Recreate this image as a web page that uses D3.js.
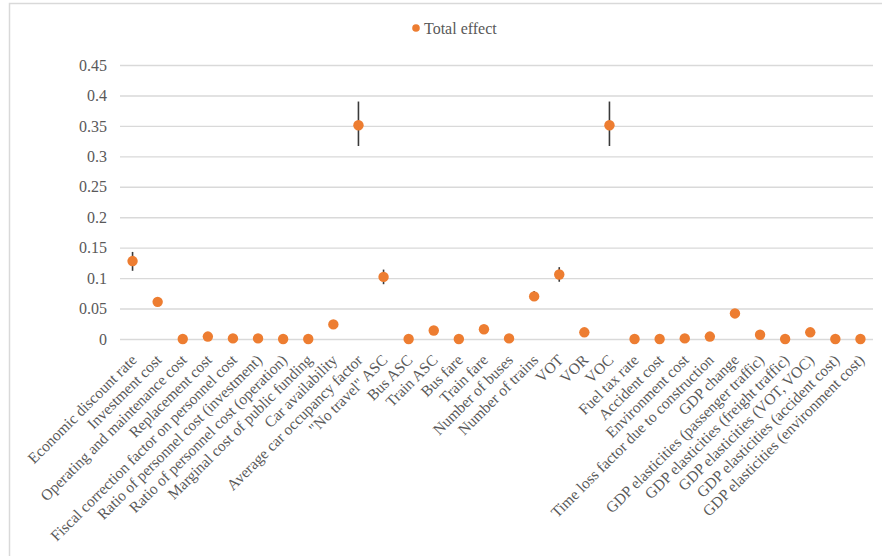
<!DOCTYPE html>
<html>
<head>
<meta charset="utf-8">
<script src="https://cdn.jsdelivr.net/npm/d3@7"></script>
<style>
  html, body { margin: 0; padding: 0; background: #fff; }
  svg { display: block; }
</style>
</head>
<body>
<svg id="chart" width="882" height="556"></svg>
<script>
// Parameters tested in the sensitivity analysis
const categories = [
  "Economic discount rate",
  "Investment cost",
  "Operating and maintenance cost",
  "Replacement cost",
  "Fiscal correction factor on personnel cost",
  "Ratio of personnel cost (investment)",
  "Ratio of personnel cost (operation)",
  "Marginal cost of public funding",
  "Car availability",
  "Average car occupancy factor",
  "\"No travel\" ASC",
  "Bus ASC",
  "Train ASC",
  "Bus fare",
  "Train fare",
  "Number of buses",
  "Number of trains",
  "VOT",
  "VOR",
  "VOC",
  "Fuel tax rate",
  "Accident cost",
  "Environment cost",
  "Time loss factor due to construction",
  "GDP change",
  "GDP elasticities (passenger traffic)",
  "GDP elasticities (freight traffic)",
  "GDP elasticities (VOT, VOC)",
  "GDP elasticities (accident cost)",
  "GDP elasticities (environment cost)"
];

// Total effect index per parameter
const totalEffect = [
  0.128, 0.061, 0.000, 0.004, 0.001, 0.001, 0.000, 0.000, 0.024, 0.351,
  0.102, 0.000, 0.014, 0.000, 0.016, 0.001, 0.070, 0.106, 0.011, 0.351,
  0.000, 0.000, 0.001, 0.004, 0.042, 0.007, 0.000, 0.011, 0.000, 0.000
];

// Confidence interval extents below / above each point (0 = no visible whisker)
const errLow = [
  0.016, 0, 0, 0, 0, 0, 0, 0, 0, 0.034,
  0.012, 0, 0, 0, 0, 0, 0, 0.012, 0, 0.034,
  0, 0, 0, 0, 0, 0, 0, 0, 0, 0
];
const errHigh = [
  0.015, 0, 0, 0, 0, 0, 0, 0, 0, 0.039,
  0.012, 0, 0, 0, 0, 0, 0.009, 0.012, 0, 0.039,
  0, 0, 0, 0, 0, 0, 0, 0, 0, 0
];

const yTicks = [0, 0.05, 0.1, 0.15, 0.2, 0.25, 0.3, 0.35, 0.4, 0.45];
const seriesName = "Total effect";

const data = categories.map((c, i) => ({
  name: c, value: totalEffect[i], lo: totalEffect[i] - errLow[i], hi: totalEffect[i] + errHigh[i]
}));

const svg = d3.select("#chart");
const W = 882, H = 556;
const plot = { left: 120, right: 873, top: 65, bottom: 339 };

const font = "'Liberation Serif', 'Times New Roman', serif";
const textColor = "#595959";
const orange = "#ED7D31";

// Outer chart frame
svg.append("rect")
  .attr("x", 9.5).attr("y", 3.5)
  .attr("width", W + 20).attr("height", H + 20)
  .attr("fill", "none").attr("stroke", "#d9d9d9").attr("stroke-width", 1.5);

const x = d3.scaleBand().domain(categories).range([plot.left, plot.right]);
const y = d3.scaleLinear().domain([0, 0.45]).range([plot.bottom, plot.top]);

// Horizontal gridlines + value labels
const yAxis = d3.axisLeft(y)
  .tickValues(yTicks)
  .tickSize(-(plot.right - plot.left))
  .tickPadding(13)
  .tickFormat(d => String(+d.toFixed(2)));

const gy = svg.append("g")
  .attr("transform", `translate(${plot.left},0)`)
  .call(yAxis);
gy.attr("font-family", null).attr("font-size", null);
gy.select(".domain").remove();
gy.selectAll(".tick line").attr("stroke", "#d9d9d9").attr("stroke-width", 1.4);
gy.selectAll(".tick text")
  .style("font-family", font).style("font-size", "16px").attr("fill", textColor);

// Category labels, rotated 45 degrees, ending just under each point
const xAxis = d3.axisBottom(x).tickSize(0).tickPadding(0);
const gx = svg.append("g")
  .attr("transform", `translate(0,${plot.bottom})`)
  .call(xAxis);
gx.attr("font-family", null).attr("font-size", null);
gx.select(".domain").remove();
gx.selectAll(".tick text")
  .style("font-family", font).style("font-size", "15.5px").attr("fill", textColor)
  .attr("text-anchor", "end")
  .attr("y", 0).attr("dy", 0)
  .attr("transform", "translate(5,22) rotate(-45)");

// Error whiskers
svg.append("g").selectAll("line")
  .data(data.filter(d => d.hi - d.lo > 0))
  .join("line")
  .attr("x1", d => x(d.name) + x.bandwidth() / 2)
  .attr("x2", d => x(d.name) + x.bandwidth() / 2)
  .attr("y1", d => y(d.lo))
  .attr("y2", d => y(d.hi))
  .attr("stroke", "#3a3a3a").attr("stroke-width", 1.6);

// Points
svg.append("g").selectAll("circle")
  .data(data)
  .join("circle")
  .attr("cx", d => x(d.name) + x.bandwidth() / 2)
  .attr("cy", d => y(d.value))
  .attr("r", 5.2)
  .attr("fill", orange);

// Legend
const lg = svg.append("g").attr("transform", "translate(416,28)");
lg.append("circle").attr("r", 3.8).attr("fill", orange);
lg.append("text")
  .attr("x", 8).attr("y", 5.5)
  .style("font-family", font).style("font-size", "16px").attr("fill", textColor)
  .text(seriesName);
</script>
</body>
</html>
